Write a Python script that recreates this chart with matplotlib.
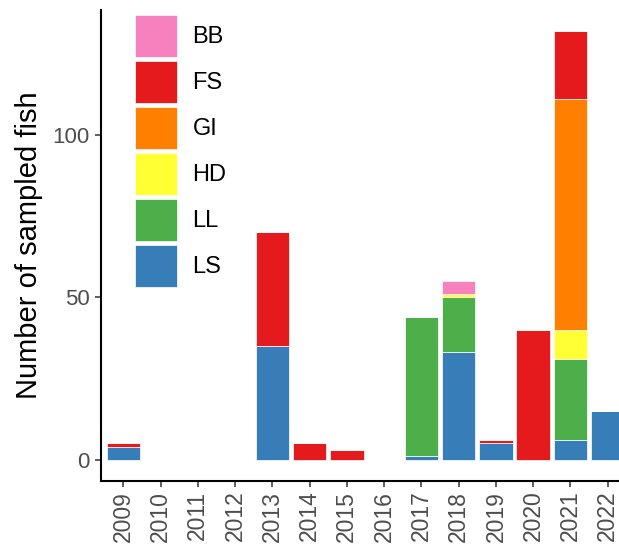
import matplotlib.pyplot as plt
import numpy as np

plt.rcParams['font.family'] = ['Liberation Sans', 'DejaVu Sans']

years = ['2009', '2010', '2011', '2012', '2013', '2014', '2015',
         '2016', '2017', '2018', '2019', '2020', '2021', '2022']

# fish counts per site, stacked bottom to top: LS, LL, HD, GI, FS, BB
LS = [4, 0, 0, 0, 35, 0, 0, 0, 1, 33, 5, 0, 6, 15]
LL = [0, 0, 0, 0, 0, 0, 0, 0, 43, 17, 0, 0, 25, 0]
HD = [0, 0, 0, 0, 0, 0, 0, 0, 0, 1, 0, 0, 9, 0]
GI = [0, 0, 0, 0, 0, 0, 0, 0, 0, 0, 0, 0, 71, 0]
FS = [1, 0, 0, 0, 35, 5, 3, 0, 0, 0, 1, 40, 21, 0]
BB = [0, 0, 0, 0, 0, 0, 0, 0, 0, 4, 0, 0, 0, 0]

sites = ['LS', 'LL', 'HD', 'GI', 'FS', 'BB']
counts = [LS, LL, HD, GI, FS, BB]
colors = {'BB': '#F781BF', 'FS': '#E41A1C', 'GI': '#FF7F00',
          'HD': '#FFFF33', 'LL': '#4DAF4A', 'LS': '#377EB8'}

fig = plt.figure(figsize=(6.19, 5.51), dpi=100)
ax = fig.add_axes([101 / 619, 70 / 551, 529 / 619, 471.5 / 551])

x = np.arange(len(years))
bottom = np.zeros(len(years))
for site, vals in zip(sites, counts):
    vals = np.array(vals, dtype=float)
    ax.bar(x, vals, width=0.9, bottom=bottom, color=colors[site],
           edgecolor='white', linewidth=0.5)
    bottom += vals

ax.set_xlim(-0.6, len(years) - 0.4)
ax.set_ylim(-6.6, 138.6)
ax.set_xticks(x)
ax.set_xticklabels(years, rotation=90, fontsize=16.5, color='#4D4D4D')
ax.set_yticks([0, 50, 100])
ax.tick_params(axis='y', labelsize=16, labelcolor='#4D4D4D',
               color='#333333', length=4, width=1.1, pad=4)
ax.tick_params(axis='x', color='#333333', length=4, width=1.1, pad=3)

for side in ['top', 'right']:
    ax.spines[side].set_visible(False)
for side in ['left', 'bottom']:
    ax.spines[side].set_linewidth(1.5)
    ax.spines[side].set_color('black')

ax.set_ylabel('Number of sampled fish', fontsize=21, labelpad=7)

order = ['BB', 'FS', 'GI', 'HD', 'LL', 'LS']
handles = [plt.Rectangle((0, 0), 1, 1, facecolor=colors[s], edgecolor='white',
                         linewidth=0.5) for s in order]
ax.legend(handles, order, loc='upper left', bbox_to_anchor=(135 / 619, 1 - 15 / 551),
          bbox_transform=fig.transFigure, frameon=False, fontsize=17,
          handlelength=1.78, handleheight=2.36, labelspacing=0.17,
          handletextpad=0.65, borderpad=0, borderaxespad=0)

fig.savefig('out.png', dpi=100)
